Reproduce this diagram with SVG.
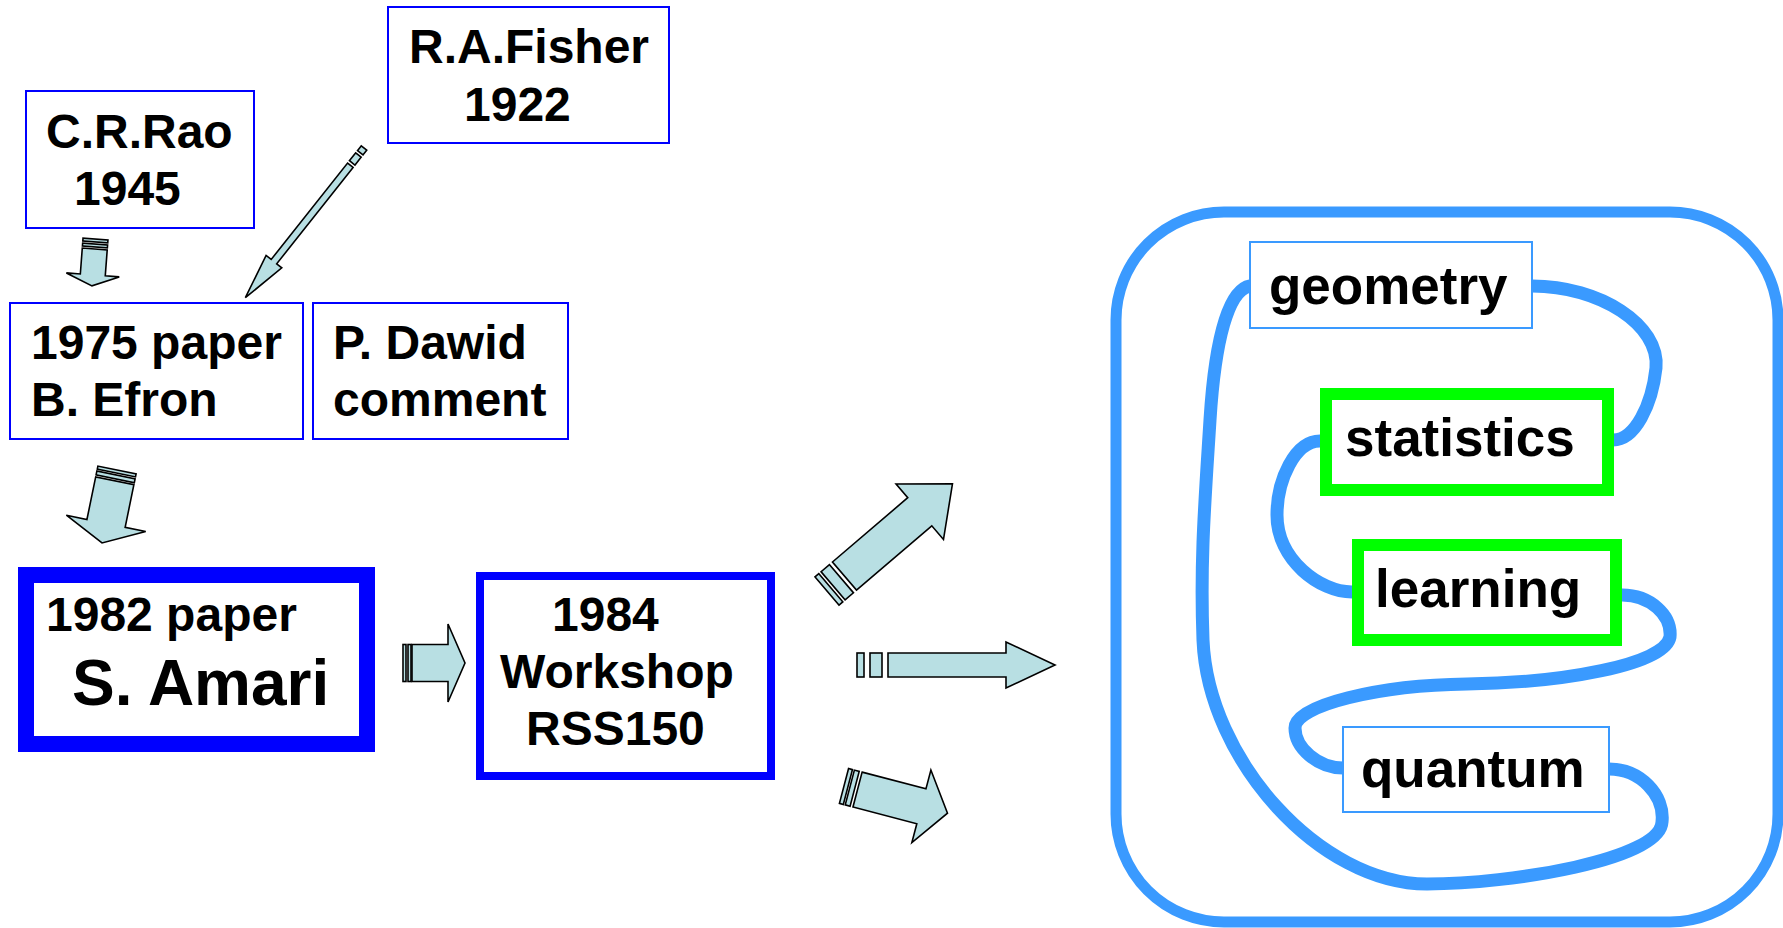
<svg xmlns="http://www.w3.org/2000/svg" width="1783" height="928" viewBox="0 0 1783 928">
  <style>
    .lbl { font-family: "Liberation Sans", Arial, sans-serif; font-weight: bold; fill: #000; }
    .t48 { font-size: 48px; }
    .t53 { font-size: 53px; }
    .t64 { font-size: 64px; }
    .box { fill: #fff; stroke: #0000ff; stroke-width: 2; }
    .lbox { fill: #fff; stroke: #3a9aff; stroke-width: 2; }
    .gbox { fill: #fff; stroke: #00ff00; stroke-width: 12; }
    .arr { fill: #b8dfe3; stroke: #000; stroke-width: 1.6; stroke-linejoin: miter; }
    .loop { fill: none; stroke: #3a9aff; stroke-width: 13; stroke-linecap: butt; }
  </style>

  <!-- history nodes -->
  <g id="fisher">
    <rect class="box" x="388" y="7" width="281" height="136"/>
    <text class="lbl t48" x="409" y="63">R.A.Fisher</text>
    <text class="lbl t48" x="464" y="121">1922</text>
  </g>
  <g id="rao">
    <rect class="box" x="26" y="91" width="228" height="137"/>
    <text class="lbl t48" x="46" y="148">C.R.Rao</text>
    <text class="lbl t48" x="74" y="205">1945</text>
  </g>
  <g id="efron">
    <rect class="box" x="10" y="303" width="293" height="136"/>
    <text class="lbl t48" x="31" y="359">1975 paper</text>
    <text class="lbl t48" x="31" y="416">B. Efron</text>
  </g>
  <g id="dawid">
    <rect class="box" x="313" y="303" width="255" height="136"/>
    <text class="lbl t48" x="333" y="359">P. Dawid</text>
    <text class="lbl t48" x="333" y="416">comment</text>
  </g>
  <g id="amari">
    <rect x="26" y="575" width="341" height="169" fill="#fff" stroke="#0000ff" stroke-width="16"/>
    <text class="lbl t48" x="46" y="631">1982 paper</text>
    <text class="lbl t64" x="72" y="705">S. Amari</text>
  </g>
  <g id="workshop">
    <rect x="480" y="576" width="291" height="200" fill="#fff" stroke="#0000ff" stroke-width="8"/>
    <text class="lbl t48" x="552" y="631">1984</text>
    <text class="lbl t48" x="500" y="688">Workshop</text>
    <text class="lbl t48" x="526" y="745">RSS150</text>
  </g>

  <!-- block arrows, drawn along +x from the tail and rotated into place -->
  <g id="connectors">
    <g id="arrow-fisher-efron" transform="translate(364,148) rotate(128.4)">
      <rect class="arr" x="0" y="-3.5" width="6" height="7"/>
      <rect class="arr" x="9" y="-3.5" width="10" height="7"/>
      <polygon class="arr" points="22,-3.5 145,-3.5 145,-10 191,0 145,10 145,3.5 22,3.5"/>
    </g>
    <g id="arrow-rao-efron" transform="translate(95.5,239) rotate(94.3)">
      <rect class="arr" x="0" y="-12.5" width="3" height="25"/>
      <rect class="arr" x="5" y="-12.5" width="3" height="25"/>
      <polygon class="arr" points="10,-12.5 36,-12.5 36,-26.5 47,0 36,26.5 36,12.5 10,12.5"/>
    </g>
    <g id="arrow-efron-amari" transform="translate(117,470) rotate(101.6)">
      <rect class="arr" x="0" y="-19.5" width="3" height="39"/>
      <rect class="arr" x="5" y="-19.5" width="4" height="39"/>
      <polygon class="arr" points="11,-19.5 54.5,-19.5 54.5,-40.5 74.5,0 54.5,40.5 54.5,19.5 11,19.5"/>
    </g>
    <g id="arrow-amari-workshop" transform="translate(403,663)">
      <rect class="arr" x="0" y="-18.5" width="3" height="37"/>
      <rect class="arr" x="5" y="-18.5" width="3" height="37"/>
      <polygon class="arr" points="9,-18.5 45,-18.5 45,-39 62,0 45,39 45,18.5 9,18.5"/>
    </g>
    <g id="arrow-out-up" transform="translate(827,591) rotate(-40.5)">
      <rect class="arr" x="0" y="-18.5" width="5" height="37"/>
      <rect class="arr" x="8" y="-18.5" width="11" height="37"/>
      <polygon class="arr" points="23,-18.5 122,-18.5 122,-36.5 165,0 122,36.5 122,18.5 23,18.5"/>
    </g>
    <g id="arrow-out-mid" transform="translate(857,665)">
      <rect class="arr" x="0" y="-12" width="7" height="24"/>
      <rect class="arr" x="13" y="-12" width="12" height="24"/>
      <polygon class="arr" points="31,-12 149,-12 149,-23 198,0 149,23 149,12 31,12"/>
    </g>
    <g id="arrow-out-down" transform="translate(844,786) rotate(14.7)">
      <rect class="arr" x="0" y="-18" width="4" height="36"/>
      <rect class="arr" x="6" y="-18" width="5" height="36"/>
      <polygon class="arr" points="14,-18 80,-18 80,-37.5 107,0 80,37.5 80,18 14,18"/>
    </g>
  </g>

  <!-- frame holding the four fields -->
  <g id="fields-frame">
    <rect x="1116" y="212" width="662" height="710" rx="108" ry="108" fill="none" stroke="#3a9aff" stroke-width="11"/>
  </g>

  <!-- thread linking the fields -->
  <g id="field-links">
    <path class="loop" d="M1532,286 C1600,286 1660,325 1656,368 C1652,405 1635,440 1613,440"/>
    <path class="loop" d="M1320,441 C1295,441 1277,480 1277,515 C1277,560 1320,592 1352,592"/>
    <path class="loop" d="M1622,595 C1650,595 1672,615 1670,637 C1665,665 1560,683 1467,684 C1380,685 1295,705 1295,728 C1295,748 1318,768 1343,768"/>
    <path class="loop" d="M1250,286 C1228,290 1215,340 1210,420 C1205,500 1200,560 1203,640 C1208,760 1320,884 1427,884 C1510,884 1660,860 1662,822 C1665,795 1640,769 1609,769"/>
  </g>

  <g id="geometry">
    <rect class="lbox" x="1250" y="242" width="282" height="86"/>
    <text class="lbl t53" x="1269" y="304">geometry</text>
  </g>
  <g id="statistics">
    <rect class="gbox" x="1326" y="394" width="282" height="96"/>
    <text class="lbl t53" x="1345" y="456">statistics</text>
  </g>
  <g id="learning">
    <rect class="gbox" x="1358" y="545" width="258" height="95"/>
    <text class="lbl t53" x="1375" y="607">learning</text>
  </g>
  <g id="quantum">
    <rect class="lbox" x="1343" y="727" width="266" height="85"/>
    <text class="lbl t53" x="1361" y="787">quantum</text>
  </g>
</svg>
